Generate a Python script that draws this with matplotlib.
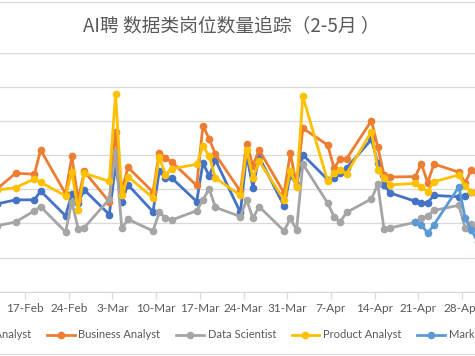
import matplotlib.pyplot as plt
import matplotlib.dates as mdates
from matplotlib.ticker import FuncFormatter, MultipleLocator
from matplotlib.patches import Rectangle
import numpy as np
import pandas as pd

plt.rcParams['font.family'] = ['Lato', 'Noto Sans CJK SC', 'DejaVu Sans']

# tracking dates (2019)
dates = pd.to_datetime([
    '2019-02-12', '2019-02-15', '2019-02-18', '2019-02-19', '2019-02-23',
    '2019-02-24', '2019-02-25', '2019-02-26', '2019-03-02', '2019-03-03',
    '2019-03-04', '2019-03-05', '2019-03-09', '2019-03-10', '2019-03-11',
    '2019-03-12', '2019-03-16', '2019-03-17', '2019-03-18', '2019-03-19',
    '2019-03-23', '2019-03-24', '2019-03-25', '2019-03-26', '2019-03-30',
    '2019-03-31', '2019-04-01', '2019-04-02', '2019-04-06', '2019-04-07',
    '2019-04-08', '2019-04-09', '2019-04-13', '2019-04-14', '2019-04-15',
    '2019-04-16', '2019-04-20', '2019-04-21', '2019-04-22', '2019-04-23',
    '2019-04-27', '2019-04-28', '2019-04-29', '2019-04-30',
])

data_analyst = [257, 269, 269, 295, 222, 287, 260, 298, 226, 369,
                264, 313, 234, 352, 333, 333, 264, 377, 339, 386,
                232, 401, 305, 394, 251, 342, 313, 401, 328, 333,
                347, 362, 446, 377, 313, 289, 265, 259, 261, 282,
                278, 279, 292, 284]
business_analyst = [301, 347, 344, 415, 287, 396, 269, 352, 263, 469,
                    298, 364, 292, 406, 392, 380, 311, 486, 448, 402,
                    294, 433, 369, 415, 289, 406, 310, 479, 429, 362,
                    389, 389, 501, 424, 342, 336, 337, 375, 319, 374,
                    350, 319, 357, 342]
data_scientist = [193, 204, 237, 249, 175, 264, 185, 188, 271, 408,
                  186, 212, 178, 232, 217, 210, 237, 269, 301, 247,
                  220, 269, 215, 249, 178, 215, 181, 374, 259, 220,
                  205, 232, 272, 314, 184, 187, 203, 215, 222, 238,
                  253, 186, 199, 166]
product_analyst = [297, 305, 330, 320, 281, 351, 240, 347, 323, 579,
                   284, 337, 275, 394, 343, 360, 373, 427, 397, 333,
                   282, 416, 333, 382, 269, 353, 308, 572, 323, 347,
                   357, 345, 469, 357, 333, 313, 317, 306, 293, 322,
                   342, 310, 291, 284]
marketing_analyst = [np.nan] * 36 + [204, 196, 171, 196, 307, 216, 181, 146]

labels = ['Data Analyst', 'Business Analyst', 'Data Scientist',
          'Product Analyst', 'Marketing Analyst']
colors = ['#4472C4', '#ED7D31', '#A5A5A5', '#FFC000', '#5B9BD5']
series = [data_analyst, business_analyst, data_scientist,
          product_analyst, marketing_analyst]

fig = plt.figure(figsize=(4.75, 3.56), dpi=100)
# the chart is cropped on both sides, so the plot area runs past the figure
ax = fig.add_axes([-0.0525, 0.1806, 1.1303, 0.6715])

# points sit between tick marks (Excel date axis)
x = mdates.date2num(dates) + 0.5
for vals, lab, col in zip(series, labels, colors):
    ax.plot(x, vals, '-o', color=col, lw=2, markersize=4.5, label=lab)

ax.set_xlim(mdates.date2num(pd.Timestamp('2019-02-09')),
            mdates.date2num(pd.Timestamp('2019-05-06')))
ax.set_ylim(0, 700)
ax.yaxis.set_major_locator(MultipleLocator(100))
ax.grid(axis='y', color='#D9D9D9', lw=0.9)
ax.set_axisbelow(True)

ax.xaxis.set_major_locator(mdates.WeekdayLocator(byweekday=mdates.SU))
ax.xaxis.set_major_formatter(FuncFormatter(
    lambda v, pos: f"{mdates.num2date(v).day}-{mdates.num2date(v):%b}"))
ax.tick_params(axis='x', direction='out', length=5, width=0.9,
               color='#D9D9D9', labelcolor='#595959', labelsize=8.5, pad=3)
ax.tick_params(axis='y', length=0, labelcolor='#595959', labelsize=8.5)

for s in ['left', 'right', 'top']:
    ax.spines[s].set_visible(False)
ax.spines['bottom'].set_color('#D9D9D9')
ax.spines['bottom'].set_linewidth(0.9)

fig.text(0.488, 0.928, 'AI聘 数据类岗位数量追踪（2-5月 ）', ha='center', va='center',
         fontsize=13.5, color='#595959',
         family=['Noto Sans CJK SC', 'DejaVu Sans'])

fig.legend(loc='center', bbox_to_anchor=(0.5, 1 - 335 / 356), ncol=5,
           frameon=False, handlelength=2.5, handletextpad=0.35,
           columnspacing=1.4, fontsize=8, labelcolor='#595959')

# chart border (left and right edges are outside the crop)
fig.patches.append(Rectangle((-0.05, 0.0056), 1.1, 0.9896, transform=fig.transFigure,
                             fill=False, ec='#D9D9D9', lw=0.9))

fig.savefig('out.png', dpi=100)
